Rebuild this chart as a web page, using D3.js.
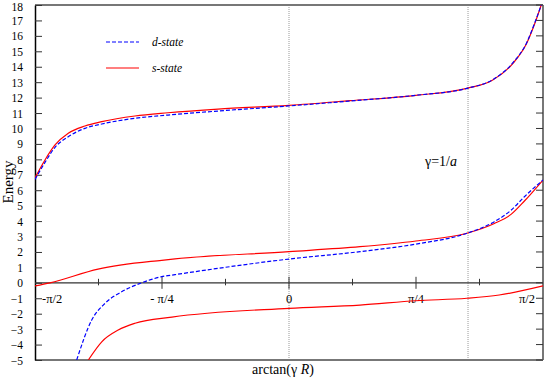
<!DOCTYPE html>
<html>
<head>
<meta charset="utf-8">
<script src="https://cdn.jsdelivr.net/npm/d3@7"></script>
<style>
body{margin:0;background:#fff;}
</style>
</head>
<body>
<div id="chart"></div>
<script>
// energy levels vs arctan(gamma R)
var upperS = [[-1.571,6.8],[-1.509,7.96],[-1.447,8.93],[-1.365,9.69],[-1.262,10.16],[-1.158,10.44],
	[-0.953,10.81],[-0.748,11.02],[-0.439,11.26],[0,11.5],[0.377,11.8],[0.785,12.15],[1.1,12.6],
	[1.26,13.14],[1.385,14.22],[1.47,15.52],[1.52,16.8],[1.56,18]];
var upperD = [[-1.571,6.7],[-1.509,7.8],[-1.447,8.78],[-1.365,9.47],[-1.262,10.01],[-1.158,10.29],
	[-0.953,10.66],[-0.748,10.87],[-0.439,11.13],[0,11.46],[0.377,11.78],[0.785,12.15],[1.1,12.6],
	[1.26,13.16],[1.385,14.26],[1.47,15.56],[1.52,16.85],[1.56,18]];
var lowerS = [[-1.571,-0.2],[-1.478,0],[-1.181,0.89],[-0.787,1.46],[-0.705,1.55],[0,2.02],[0.439,2.34],
	[0.785,2.71],[1.1,3.21],[1.27,3.84],[1.375,4.45],[1.456,5.3],[1.571,6.66]];
var lowerD = [[-1.313,-5],[-1.22,-2.41],[-1.138,-1.33],[-1.035,-0.58],[-0.911,0],[-0.787,0.4],[-0.705,0.53],
	[0,1.54],[0.439,2.02],[0.785,2.51],[1.1,3.21],[1.27,3.96],[1.375,4.72],[1.456,5.58],[1.571,6.66]];
var lowestS = [[-1.241,-5],[-1.158,-3.82],[-1.056,-3.06],[-0.952,-2.62],[-0.724,-2.22],[0,-1.65],
	[0.439,-1.44],[0.785,-1.16],[1.1,-1.0],[1.3,-0.79],[1.571,-0.2]];

var xMajor = [-Math.PI/2,-Math.PI/4,0,Math.PI/4,Math.PI/2];
var xMajorLabels = ['-π/2','- π/4','0','π/4','π/2'];
var xMinor = [-3*Math.PI/8,-Math.PI/8,Math.PI/8,3*Math.PI/8];
var yTicks = d3.range(-5,19);
var markerLines = [0,Math.atan(2)];

var W = 545, H = 379;
var FONT = 'Liberation Serif';
var x = d3.scaleLinear().domain([-Math.PI/2,Math.PI/2]).range([35,543]);
var y = d3.scaleLinear().domain([-5,18]).range([360,5]);

var svg = d3.select('#chart').append('svg')
	.attr('width',W).attr('height',H)
	.attr('font-family',FONT);

svg.append('clipPath').attr('id','plot')
	.append('rect')
		.attr('x',x.range()[0]).attr('y',y.range()[1])
		.attr('width',x.range()[1]-x.range()[0])
		.attr('height',y.range()[0]-y.range()[1]);

// dotted markers
svg.selectAll('.marker')
	.data(markerLines).enter()
	.append('line')
		.attr('class','marker')
		.attr('x1',function(d){return x(d);})
		.attr('x2',function(d){return x(d);})
		.attr('y1',y(18)).attr('y2',y(-5))
		.attr('stroke','#999')
		.attr('stroke-width',1)
		.attr('stroke-dasharray','1,1');

// frame
svg.append('line').attr('x1',x.range()[0]).attr('x2',x.range()[1]).attr('y1',y(18)).attr('y2',y(18))
	.attr('stroke','#777').attr('stroke-width',2);
svg.append('line').attr('x1',x.range()[0]).attr('x2',x.range()[1]).attr('y1',y(-5)).attr('y2',y(-5))
	.attr('stroke','#777').attr('stroke-width',2);
svg.append('line').attr('x1',x.range()[1]).attr('x2',x.range()[1]).attr('y1',y(18)).attr('y2',y(-5))
	.attr('stroke','#777').attr('stroke-width',2);

// left axis, ticks inward
var yAxis = d3.axisLeft(y).tickValues(yTicks).tickSizeInner(-7).tickSizeOuter(0).tickPadding(12);
var gy = svg.append('g').attr('transform','translate('+x.range()[0]+',0)').call(yAxis);
gy.attr('font-family',FONT).attr('font-size',11.5);
gy.select('.domain').attr('stroke','#000').attr('stroke-width',1.5);
gy.selectAll('.tick line').attr('stroke','#333');
gy.selectAll('text').attr('font-family',FONT).attr('fill','#000')
	.attr('dy',function(d){return d==18?'0.45em':'0.35em';});

// right side ticks
svg.selectAll('.rtick')
	.data(yTicks).enter()
	.append('line')
		.attr('class','rtick')
		.attr('x1',x.range()[1]-7).attr('x2',x.range()[1])
		.attr('y1',function(d){return y(d);})
		.attr('y2',function(d){return y(d);})
		.attr('stroke','#333');

// zero line with pi ticks
svg.append('line').attr('x1',x.range()[0]).attr('x2',x.range()[1]).attr('y1',y(0)).attr('y2',y(0))
	.attr('stroke','#333').attr('stroke-width',1.2);
svg.selectAll('.xmajor')
	.data(xMajor.slice(1,4)).enter()
	.append('line')
		.attr('x1',function(d){return x(d);}).attr('x2',function(d){return x(d);})
		.attr('y1',y(0)-6).attr('y2',y(0)+6)
		.attr('stroke','#333');
svg.selectAll('.xminor')
	.data(xMinor).enter()
	.append('line')
		.attr('x1',function(d){return x(d);}).attr('x2',function(d){return x(d);})
		.attr('y1',y(0)-4).attr('y2',y(0)+2.5)
		.attr('stroke','#333');
svg.selectAll('.xlab')
	.data(xMajor).enter()
	.append('text')
		.attr('x',function(d,i){
			if(i==0) return x(d)+7;
			if(i==xMajor.length-1) return x(d)-8;
			return x(d);})
		.attr('y',y(0)+20)
		.attr('text-anchor',function(d,i){
			if(i==0) return 'start';
			if(i==xMajor.length-1) return 'end';
			return 'middle';})
		.attr('font-family',FONT)
		.attr('font-size',12.5)
		.text(function(d,i){return xMajorLabels[i];});

// curves
var line = d3.line()
	.x(function(d){return x(d[0]);})
	.y(function(d){return y(d[1]);})
	.curve(d3.curveMonotoneX);

var series = [
	{data:upperS,color:'#ff0000',dash:null},
	{data:upperD,color:'#0000ff',dash:'4,2'},
	{data:lowerS,color:'#ff0000',dash:null},
	{data:lowerD,color:'#0000ff',dash:'4,2'},
	{data:lowestS,color:'#ff0000',dash:null}
];
svg.append('g').attr('clip-path','url(#plot)')
	.selectAll('.curve')
	.data(series).enter()
	.append('path')
		.attr('class','curve')
		.attr('d',function(d){return line(d.data);})
		.attr('fill','none')
		.attr('stroke',function(d){return d.color;})
		.attr('stroke-width',1.2)
		.attr('stroke-dasharray',function(d){return d.dash;});

// legend
var legend = [{label:'d-state',color:'#0000ff',dash:'4,2',y:42},{label:'s-state',color:'#ff0000',dash:null,y:68}];
svg.selectAll('.legline')
	.data(legend).enter()
	.append('line')
		.attr('x1',106).attr('x2',139)
		.attr('y1',function(d){return d.y;}).attr('y2',function(d){return d.y;})
		.attr('stroke',function(d){return d.color;})
		.attr('stroke-width',1.2)
		.attr('stroke-dasharray',function(d){return d.dash;});
svg.selectAll('.legtext')
	.data(legend).enter()
	.append('text')
		.attr('x',152)
		.attr('y',function(d){return d.y+4;})
		.attr('font-family',FONT)
		.attr('font-size',11.5)
		.attr('font-style','italic')
		.text(function(d){return d.label;});

// annotations
var g1 = svg.append('text').attr('x',425).attr('y',166).attr('font-family',FONT).attr('font-size',14);
g1.append('tspan').text('γ=1/');
g1.append('tspan').attr('font-style','italic').text('a');

svg.append('text')
	.attr('transform','translate(13,182) rotate(-90)')
	.attr('text-anchor','middle')
	.attr('font-family',FONT)
	.attr('font-size',15)
	.text('Energy');

var xl = svg.append('text').attr('x',283).attr('y',374).attr('text-anchor','middle')
	.attr('font-family',FONT).attr('font-size',14);
xl.append('tspan').text('arctan(γ ');
xl.append('tspan').attr('font-style','italic').text('R');
xl.append('tspan').text(')');
</script>
</body>
</html>
